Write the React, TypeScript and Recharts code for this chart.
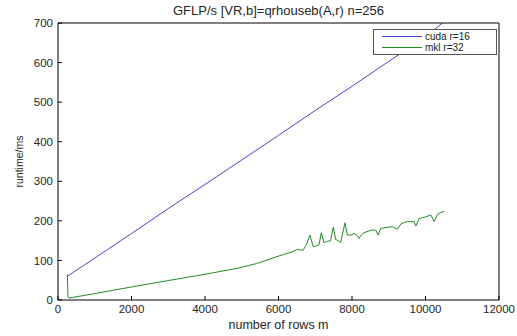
import { LineChart, Line, XAxis, YAxis, Legend } from 'recharts'

const xTicks = [0, 2000, 4000, 6000, 8000, 10000, 12000]
const yTicks = [0, 100, 200, 300, 400, 500, 600, 700]

const cudaRows = [256, 1000, 2000, 3000, 4000, 5000, 6000, 7000, 8000, 9000, 10000, 10500]
const cudaTime = [60, 106, 168, 231, 292, 354, 416, 479, 540, 603, 665, 703]

const mklRows = [
  256, 270, 300, 1000, 1282, 2000, 3055, 4000, 4873, 5400, 5782, 6100, 6350, 6509, 6600,
  6673, 6760, 6855, 6945, 7030, 7100, 7165, 7235, 7330, 7418, 7491, 7555, 7630, 7691, 7808,
  7873, 7964, 8054, 8120, 8190, 8260, 8327, 8440, 8555, 8650, 8709, 8782, 8870, 8964, 9100,
  9236, 9327, 9420, 9509, 9600, 9691, 9736, 9827, 9920, 10009, 10145, 10236, 10327, 10418, 10509,
]
const mklTime = [
  65, 8, 5, 16, 21, 33, 50, 65, 80, 92, 104, 114, 121, 128, 126,
  126, 140, 164, 135, 137, 139, 170, 145, 148, 150, 184, 153, 150, 145, 195,
  164, 164, 168, 165, 156, 165, 170, 174, 177, 176, 164, 181, 182, 184, 185,
  179, 192, 196, 198, 198, 198, 187, 206, 208, 210, 215, 198, 217, 221, 224,
]

const cudaData = cudaRows.map((m, i) => ({ m, t: cudaTime[i] }))
const mklData = mklRows.map((m, i) => ({ m, t: mklTime[i] }))

const FONT = '"Liberation Sans", Arial, sans-serif'
const TEXT = '#262626'
const TICK_LEN = 4
const TICK_COLOR = '#000'

type TickProps = { x?: number; y?: number; payload?: { value: number } }

// matlab style: tick marks point into the plot box
const BottomTick = ({ x = 0, y = 0, payload }: TickProps) => (
  <g>
    <line x1={x} x2={x} y1={y} y2={y - TICK_LEN} stroke={TICK_COLOR} strokeWidth={1} />
    <text x={x} y={y + 13} textAnchor="middle" fill={TEXT} fontSize={11.5} fontFamily={FONT}>
      {payload?.value}
    </text>
  </g>
)

const LeftTick = ({ x = 0, y = 0, payload }: TickProps) => (
  <g>
    <line x1={x} x2={x + TICK_LEN} y1={y} y2={y} stroke={TICK_COLOR} strokeWidth={1} />
    <text x={x - 5} y={y} dy="0.36em" textAnchor="end" fill={TEXT} fontSize={11.5} fontFamily={FONT}>
      {payload?.value}
    </text>
  </g>
)

const TopTick = ({ x = 0, y = 0 }: TickProps) => (
  <line x1={x} x2={x} y1={y} y2={y + TICK_LEN} stroke={TICK_COLOR} strokeWidth={1} />
)

const RightTick = ({ x = 0, y = 0 }: TickProps) => (
  <line x1={x} x2={x - TICK_LEN} y1={y} y2={y} stroke={TICK_COLOR} strokeWidth={1} />
)

const LegendBox = ({ payload }: { payload?: Array<{ value: string; color: string }> }) => (
  <div
    style={{
      border: '1px solid #555',
      background: '#fff',
      padding: '1px 6px 1px 8px',
      fontFamily: FONT,
      fontSize: 10,
      color: '#222',
    }}
  >
    {(payload ?? []).map((p) => (
      <div key={p.value} style={{ display: 'flex', alignItems: 'center', height: 11, lineHeight: '11px' }}>
        <span style={{ display: 'inline-block', width: 40, height: 1, background: p.color, marginRight: 3 }} />
        <span>{p.value}</span>
      </div>
    ))}
  </div>
)

export default function App() {
  return (
    <div style={{ position: 'absolute', left: 0, top: 0, width: 517, height: 336, background: '#fff' }}>
      <div
        style={{
          position: 'absolute',
          left: 58,
          width: 441,
          top: 3,
          textAlign: 'center',
          fontFamily: FONT,
          fontSize: 13,
          color: TEXT,
          zIndex: 2,
        }}
      >
        GFLP/s [VR,b]=qrhouseb(A,r) n=256
      </div>
      <LineChart width={517} height={336} margin={{ top: 22, right: 17, bottom: 0, left: 0 }}>
        <XAxis
          dataKey="m"
          type="number"
          domain={[0, 12000]}
          ticks={xTicks}
          interval={0}
          height={36}
          stroke="#000"
          tickLine={false}
          tickSize={0}
          tickMargin={0}
          tick={<BottomTick />}
          label={{
            value: 'number of rows m',
            position: 'insideBottom',
            offset: 7,
            fill: TEXT,
            fontSize: 12.5,
            fontFamily: FONT,
          }}
        />
        <XAxis
          xAxisId="top"
          orientation="top"
          type="number"
          domain={[0, 12000]}
          ticks={xTicks}
          interval={0}
          height={1}
          stroke="#000"
          tickLine={false}
          tickSize={0}
          tickMargin={0}
          tick={<TopTick />}
        />
        <YAxis
          type="number"
          domain={[0, 700]}
          ticks={yTicks}
          interval={0}
          allowDataOverflow
          width={58}
          stroke="#000"
          tickLine={false}
          tickSize={0}
          tickMargin={0}
          tick={<LeftTick />}
          label={{
            value: 'runtime/ms',
            angle: -90,
            position: 'insideLeft',
            offset: 19,
            fill: TEXT,
            fontSize: 10.5,
            fontFamily: FONT,
            style: { textAnchor: 'middle' },
          }}
        />
        <YAxis
          yAxisId="right"
          orientation="right"
          type="number"
          domain={[0, 700]}
          ticks={yTicks}
          interval={0}
          width={1}
          stroke="#000"
          tickLine={false}
          tickSize={0}
          tickMargin={0}
          tick={<RightTick />}
        />
        <Legend
          layout="vertical"
          align="center"
          verticalAlign="middle"
          content={<LegendBox />}
          wrapperStyle={{ left: 373, top: 29, width: 124, height: 'auto' }}
        />
        <Line
          data={cudaData}
          dataKey="t"
          name="cuda r=16"
          type="linear"
          stroke="#4545d2"
          strokeWidth={1}
          dot={false}
          isAnimationActive={false}
        />
        <Line
          data={mklData}
          dataKey="t"
          name="mkl r=32"
          type="linear"
          stroke="#248a24"
          strokeWidth={1}
          dot={false}
          isAnimationActive={false}
        />
      </LineChart>
    </div>
  )
}
